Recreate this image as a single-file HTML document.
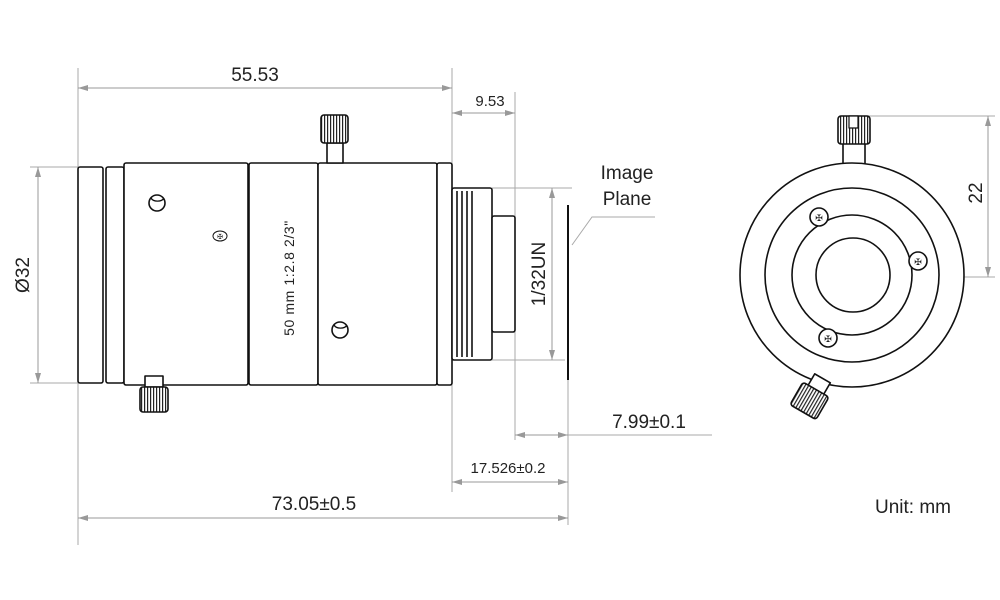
<!DOCTYPE html>
<html><head><style>body{margin:0;background:#fff}svg{display:block}text{font-family:"Liberation Sans",sans-serif;fill:#222}</style></head><body>
<svg width="1000" height="600" viewBox="0 0 1000 600" xmlns="http://www.w3.org/2000/svg">
<defs><marker id="a" viewBox="0 0 10 6" refX="10" refY="3" markerWidth="10" markerHeight="6" orient="auto-start-reverse"><path d="M0,0L10,3L0,6z" fill="#999"/></marker>
<pattern id="k" width="3" height="4" patternUnits="userSpaceOnUse"><rect width="3" height="4" fill="#fff"/><rect width="1.2" height="4" fill="#222"/></pattern></defs>
<g stroke="#aaa" stroke-width="1" fill="none">
<line x1="78" y1="68" x2="78" y2="545"/><line x1="452" y1="68" x2="452" y2="492"/><line x1="515" y1="92" x2="515" y2="440"/><line x1="568" y1="380" x2="568" y2="525"/>
<line x1="30" y1="167" x2="78" y2="167"/><line x1="30" y1="383" x2="78" y2="383"/>
<line x1="492" y1="188" x2="572" y2="188"/><line x1="492" y1="360" x2="565" y2="360"/>
<line x1="864" y1="116" x2="995" y2="116"/><line x1="855" y1="277" x2="995" y2="277"/>
<line x1="568" y1="435" x2="712" y2="435"/>
<polyline points="572,245 592,217 655,217"/>
<g marker-start="url(#a)" marker-end="url(#a)" stroke="#999">
<line x1="78" y1="88" x2="452" y2="88"/><line x1="452" y1="113" x2="515" y2="113"/>
<line x1="38" y1="167" x2="38" y2="383"/><line x1="552" y1="188" x2="552" y2="360"/>
<line x1="988" y1="116" x2="988" y2="277"/><line x1="515" y1="435" x2="568" y2="435"/>
<line x1="452" y1="482" x2="568" y2="482"/><line x1="78" y1="518" x2="568" y2="518"/></g>
</g>
<g stroke="#111" stroke-width="1.6" fill="#fff" stroke-linejoin="round">
<rect x="78" y="167" width="25" height="216" rx="2"/><rect x="106" y="167" width="18" height="216" rx="2"/>
<rect x="124" y="163" width="124" height="222" rx="2"/><rect x="249" y="163" width="69" height="222" rx="2"/>
<rect x="318" y="163" width="119" height="222" rx="2"/><rect x="437" y="163" width="15" height="222" rx="2"/>
<rect x="452" y="188" width="40" height="172" rx="2"/>
<line x1="457" y1="191" x2="457" y2="357"/><line x1="462" y1="191" x2="462" y2="357"/><line x1="467" y1="191" x2="467" y2="357"/><line x1="472" y1="191" x2="472" y2="357"/>
<rect x="492" y="216" width="23" height="116" rx="2"/>
<rect x="327" y="143" width="16" height="20"/><rect x="321" y="115" width="27" height="28" rx="3" fill="url(#k)"/>
<rect x="145" y="376" width="18" height="11"/><rect x="140" y="387" width="28" height="25" rx="3" fill="url(#k)"/>
<circle cx="157" cy="203" r="8"/><path d="M151,198 A7,5 0 0 0 164,198" fill="none" stroke-width="1.3"/>
<circle cx="340" cy="330" r="8"/><path d="M334,325 A7,5 0 0 0 347,325" fill="none" stroke-width="1.3"/>
<ellipse cx="220" cy="236" rx="7" ry="5" stroke-width="1"/>
<line x1="568" y1="205" x2="568" y2="380" stroke-width="2"/>
<rect x="843" y="143" width="22" height="22"/><rect x="838" y="116" width="32" height="28" rx="3" fill="url(#k)"/>
<rect x="849" y="116" width="9" height="12" stroke-width="1.2"/>
<circle cx="852" cy="275" r="112"/><circle cx="852" cy="275" r="87"/><circle cx="852" cy="275" r="60"/><circle cx="853" cy="275" r="37"/>
<g transform="rotate(30 810 400)"><rect x="801" y="375" width="18" height="15"/><rect x="795" y="388" width="30" height="26" rx="3" fill="url(#k)"/></g>
<circle cx="819" cy="217" r="9"/><circle cx="918" cy="261" r="9"/><circle cx="828" cy="338" r="9"/>
</g>
<g font-size="9" text-anchor="middle" fill="#111"><text x="819" y="221">✠</text><text x="918" y="265">✠</text><text x="828" y="342">✠</text><text x="220" y="239" font-size="7">✠</text></g>
<text x="0" y="0" font-size="14" letter-spacing="0.6" text-anchor="middle" transform="translate(294 278) rotate(-90)">50 mm  1:2.8  2/3"</text>
<g font-size="19" text-anchor="middle">
<text x="255" y="81">55.53</text><text x="490" y="106" font-size="15">9.53</text>
<text x="627" y="179">Image</text><text x="627" y="205">Plane</text>
<text x="649" y="428">7.99±0.1</text><text x="508" y="473" font-size="15">17.526±0.2</text>
<text x="314" y="510">73.05±0.5</text><text x="913" y="513">Unit: mm</text>
<text x="0" y="0" transform="translate(29 275) rotate(-90)">Ø32</text>
<text x="0" y="0" transform="translate(545 274) rotate(-90)">1/32UN</text>
<text x="0" y="0" transform="translate(982 193) rotate(-90)">22</text>
</g>
</svg>
</body></html>
